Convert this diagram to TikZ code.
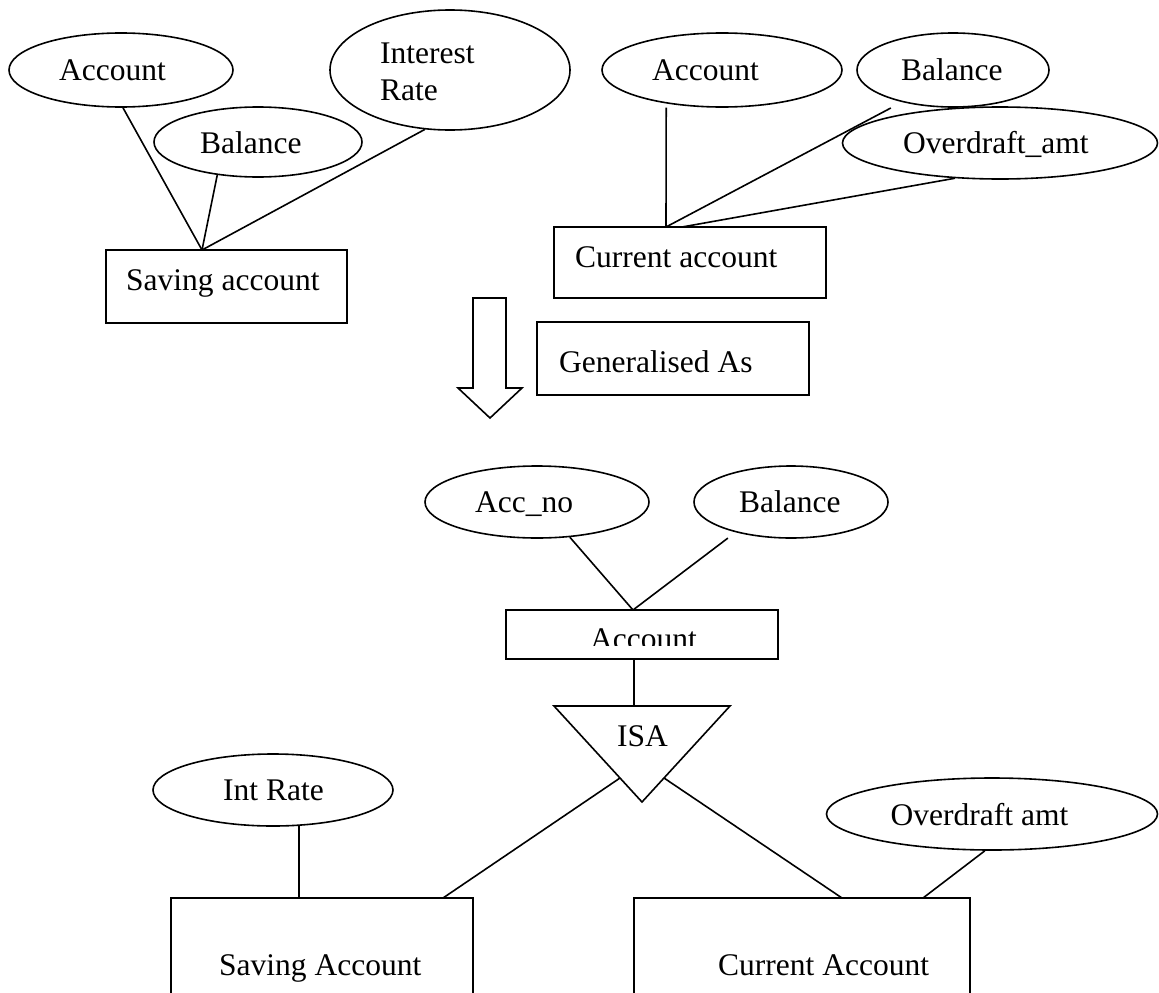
\documentclass[tikz,border=0pt]{standalone}
\usepackage{fontspec}
\setmainfont{Liberation Serif}
\usetikzlibrary{shapes.geometric,calc}

\tikzset{
  edge/.style={line width=1.6pt, line join=miter},
  attr/.style={draw, line width=1.6pt, ellipse, inner sep=0pt},
  entity/.style={draw, line width=1.6pt, rectangle, inner sep=0pt},
  txt/.style={inner sep=0pt, anchor=base west, font=\fontsize{31.5}{37}\selectfont},
}

\begin{document}
\begin{tikzpicture}[x=1pt, y=-1pt]
\useasboundingbox (0,0) rectangle (1159,993);
\clip (0,0) rectangle (1159,993);

% ---------- Saving account with its attributes ----------
\node[attr, minimum width=224pt, minimum height=74pt] (sAcc) at (121,70) {};
\node[txt] (sAccT) at (59,80) {Account};
\node[attr, minimum width=208pt, minimum height=70pt] (sBal) at (258,142) {};
\node[txt] (sBalT) at (200,153) {Balance};
\node[attr, minimum width=240pt, minimum height=120pt] (sInt) at (450,70) {};
\node[txt] (sIntT1) at (380,63) {Interest};
\node[txt] (sIntT2) at (380,100) {Rate};
\node[entity, minimum width=241pt, minimum height=73pt] (sEnt) at (226.5,286.5) {};
\node[txt] (sEntT) at (126,290) {Saving account};
\coordinate (sJ) at (202,250);
\draw[edge] (sAcc.-87) -- (sJ);
\draw[edge] (sBal.-141) -- (sJ);
\draw[edge] (sInt.-113) -- (sJ);

% ---------- Current account with its attributes ----------
\node[attr, minimum width=240pt, minimum height=74pt] (cAcc) at (722,70) {};
\node[txt] (cAccT) at (652,80) {Account};
\node[attr, minimum width=192pt, minimum height=74pt] (cBal) at (953,70) {};
\node[txt] (cBalT) at (901,80) {Balance};
\node[attr, minimum width=315pt, minimum height=72pt] (cOvd) at (1000,143) {};
\node[txt] (cOvdT) at (903,153) {Overdraft\_amt};
\node[entity, minimum width=272pt, minimum height=71pt] (cEnt) at (690,262.5) {};
\node[txt] (cEntT) at (575,267) {Current account};
\coordinate (cJ1) at (666,227);
\coordinate (cJ2) at (682,227);
\draw[edge] ([yshift=-4pt]cAcc.-149.7) -- (cJ1);
\draw[edge] ([yshift=-9pt]cBal.-155.5) -- (cJ1);
\draw[edge] (cOvd.-142.5) -- (cJ2);

% ---------- Generalisation arrow ----------
\draw[edge] (473,298) -- (506,298) -- (506,388) -- (522,388) -- (490,418)
  -- (458,388) -- (473,388) -- cycle;
\node[entity, minimum width=272pt, minimum height=73pt] (gen) at (673,358.5) {};
\node[txt] (genT) at (559,372) {Generalised As};

% ---------- Account superclass ----------
\node[attr, minimum width=224pt, minimum height=72pt] (aNo) at (537,502) {};
\node[txt] (aNoT) at (475,512) {Acc\_no};
\node[attr, minimum width=194pt, minimum height=72pt] (aBal) at (791,502) {};
\node[txt] (aBalT) at (739,512) {Balance};
\node[entity, minimum width=272pt, minimum height=49pt] (aEnt) at (642,634.5) {};
\begin{scope}
  % the label is cut off along its baseline
  \clip (506,600) rectangle (778,645.5);
  \node[txt] (aEntT) at (590,649) {Account};
\end{scope}
\coordinate (aJ) at (633,610);
\draw[edge] (aNo.-47.2) -- (aJ);
\draw[edge] ([yshift=-8pt]aBal.-156.5) -- (aJ);

% ---------- ISA triangle ----------
\coordinate (isaL) at (554,706);
\coordinate (isaR) at (730,706);
\coordinate (isaT) at (642,802);
\draw[edge] (isaL) -- (isaR) -- (isaT) -- cycle;
\node[txt] (isaTxt) at (617,746) {ISA};
\draw[edge] ([xshift=-8pt]aEnt.south) -- ([xshift=-8pt]aEnt.south |- isaL);

% ---------- Subclasses ----------
\node[attr, minimum width=240pt, minimum height=72pt] (iRate) at (273,790) {};
\node[txt] (iRateT) at (223,800) {Int Rate};
\node[attr, minimum width=331pt, minimum height=72pt] (oAmt) at (992,814) {};
\node[txt] (oAmtT) at (890.5,825) {Overdraft amt};
\node[entity, minimum width=302pt, minimum height=112pt] (sub1) at (322,954) {};
\node[txt] (sub1T) at (219,975) {Saving Account};
\node[entity, minimum width=336pt, minimum height=112pt] (sub2) at (802,954) {};
\node[txt] (sub2T) at (718,975) {Current Account};

\coordinate (s1J) at (443,898);
\coordinate (s2J) at (842,898);
\draw[edge] ($(isaL)!0.75!(isaT)$) -- (s1J);
\draw[edge] ($(isaR)!0.75!(isaT)$) -- (s2J);
\draw[edge] (iRate.-54.6) -- (iRate.-54.6 |- sub1.north);
\draw[edge] (oAmt.-101) -- (923,898);
\end{tikzpicture}
\end{document}
